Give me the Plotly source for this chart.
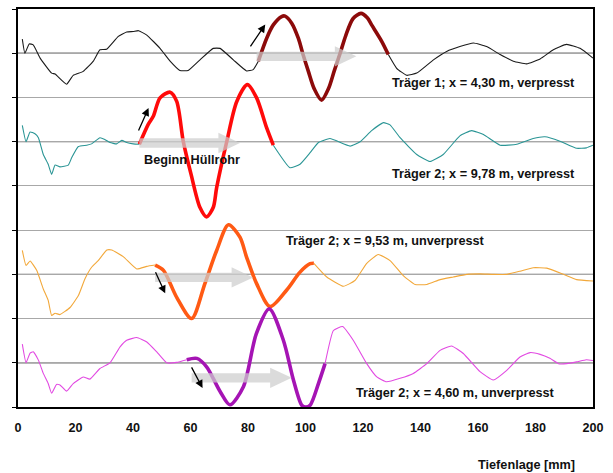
import plotly.graph_objects as go

# ---------------- data ----------------
# Series 1: Träger 1; x = 4,30 m, verpresst (baseline 8)
s1_pre_x = [1.5, 2.4, 3.9, 5.3, 7.7, 11.7, 12.9, 16.9, 19.2, 22.7, 26.2, 28.5, 30.8, 34.9, 37.8, 40.1, 41.9, 44.8, 49.4, 52.9, 56.3, 59.2, 63.3, 67.9, 70.3, 74.9, 79.5, 81.8, 83.6]
s1_pre_y = [8.32, 8.0, 8.21, 8.19, 7.89, 7.55, 7.53, 7.30, 7.5, 7.59, 7.82, 8.08, 8.09, 8.38, 8.48, 8.49, 8.51, 8.41, 8.11, 7.82, 7.61, 7.61, 7.85, 8.11, 8.11, 7.85, 7.6, 7.63, 7.82]
s1_thick_x = [83.6, 86.5, 88.8, 91.7, 92.9, 95.2, 97.5, 99.2, 101.0, 103.0, 105.6, 108.0, 110.0, 112.0, 114.0, 116.5, 119.3, 121.5, 123.0, 126.5, 128.8]
s1_thick_y = [7.82, 8.34, 8.64, 8.83, 8.84, 8.68, 8.34, 7.96, 7.59, 7.2, 6.94, 7.2, 7.6, 7.99, 8.4, 8.78, 8.90, 8.8, 8.64, 8.27, 7.97]
s1_post_x = [128.8, 131.7, 135.2, 138.7, 144.5, 149.1, 153.7, 158.4, 163.0, 167.7, 172.3, 176.9, 181.6, 186.2, 190.8, 195.5, 200.0]
s1_post_y = [7.97, 7.66, 7.5, 7.55, 7.85, 8.04, 8.15, 8.23, 8.15, 7.97, 7.82, 7.76, 7.87, 8.08, 8.2, 8.11, 7.89]

# Series 2: Träger 2; x = 9,78 m, verpresst (baseline 6)
s2_pre_x = [1.5, 2.8, 4.2, 5.9, 7.1, 8.8, 10.5, 11.7, 12.9, 14.6, 17.5, 18.7, 21.0, 23.9, 25.6, 28.5, 30.2, 32.0, 34.3, 36.1, 37.8, 40.1, 42.2]
s2_pre_y = [6.37, 6.0, 6.22, 6.18, 6.09, 5.71, 5.49, 5.26, 5.47, 5.43, 5.47, 5.64, 5.89, 5.92, 5.95, 6.09, 6.05, 5.98, 5.95, 6.03, 5.98, 5.95, 5.94]
s2_thick_x = [42.2, 45.3, 47.1, 49.4, 52.9, 55.2, 57.5, 60.2, 63.3, 65.6, 67.9, 69.1, 72.6, 76.1, 79.8, 83.0, 86.5, 88.8]
s2_thick_y = [5.94, 6.39, 6.58, 6.99, 7.12, 6.91, 6.0, 5.26, 4.51, 4.30, 4.51, 4.96, 6.0, 6.91, 7.29, 6.99, 6.31, 5.92]
s2_post_x = [88.8, 94.6, 98.1, 101.6, 104.5, 108.5, 115.5, 119.0, 123.0, 127.1, 129.4, 132.9, 138.7, 143.3, 147.9, 153.7, 157.8, 161.9, 167.7, 173.5, 179.2, 183.3, 188.5, 194.3, 197.7, 200.0]
s2_post_y = [5.92, 5.41, 5.49, 5.75, 5.98, 6.07, 5.9, 6.0, 6.25, 6.43, 6.38, 6.09, 5.71, 5.55, 5.71, 6.13, 6.25, 6.16, 5.92, 5.94, 6.07, 6.11, 6.01, 5.85, 5.86, 5.92]

# Series 3: Träger 2; x = 9,53 m, unverpresst (baseline 3)
s3_pre_x = [1.5, 2.8, 4.2, 6.5, 8.8, 10.5, 11.7, 12.9, 14.6, 18.1, 21.0, 23.3, 25.6, 27.9, 30.9, 32.6, 36.6, 41.3, 44.8, 47.7]
s3_pre_y = [3.54, 3.2, 3.30, 3.09, 2.67, 2.41, 2.07, 2.12, 2.09, 2.25, 2.52, 2.90, 3.16, 3.31, 3.55, 3.55, 3.40, 3.12, 3.18, 3.21]
s3_thick_x = [47.7, 50.6, 55.2, 60.4, 65.0, 69.1, 73.2, 77.2, 79.5, 83.0, 87.7, 93.4, 98.1, 101.6, 102.9]
s3_thick_y = [3.21, 3.09, 2.48, 2.0, 2.79, 3.54, 4.12, 3.84, 3.39, 2.79, 2.27, 2.64, 3.05, 3.24, 3.25]
s3_post_x = [102.9, 107.4, 113.2, 117.2, 121.3, 125.3, 129.4, 134.0, 138.1, 142.2, 146.8, 151.4, 156.1, 160.7, 165.3, 170.0, 174.6, 179.2, 183.9, 189.7, 194.3, 200.0]
s3_post_y = [3.25, 2.94, 2.73, 2.86, 3.25, 3.45, 3.31, 2.97, 2.77, 2.77, 2.88, 2.94, 3.0, 3.01, 3.0, 3.0, 3.07, 3.15, 3.14, 3.0, 2.88, 2.85]

# Series 4: Träger 2; x = 4,60 m, unverpresst (baseline 1)
s4_pre_x = [1.5, 2.8, 4.2, 5.3, 7.1, 8.8, 10.5, 11.7, 13.4, 14.6, 16.9, 19.2, 22.7, 25.0, 28.5, 32.0, 35.5, 37.8, 41.3, 44.8, 48.2, 51.7, 55.2, 58.7]
s4_pre_y = [1.42, 1.0, 1.22, 1.25, 1.06, 0.76, 0.53, 0.31, 0.51, 0.50, 0.36, 0.53, 0.68, 0.63, 0.87, 1.0, 1.36, 1.51, 1.57, 1.47, 1.25, 1.0, 1.01, 1.07]
s4_thick_x = [58.7, 62.2, 65.6, 70.3, 73.7, 78.4, 82.9, 87.4, 92.3, 95.8, 98.7, 100.1, 101.6, 104.5, 106.8]
s4_thick_y = [1.07, 1.10, 0.91, 0.35, 0.05, 0.46, 1.66, 2.22, 1.51, 0.61, 0.04, 0.0, 0.04, 0.53, 0.98]
s4_post_x = [106.8, 109.7, 112.9, 116.6, 121.3, 124.8, 128.2, 132.9, 137.5, 142.2, 146.8, 150.8, 154.9, 160.7, 165.3, 170.0, 174.6, 178.1, 181.6, 185.0, 188.0, 190.8, 194.3, 197.7, 200.0]
s4_post_y = [0.98, 1.73, 1.82, 1.51, 0.98, 0.68, 0.57, 0.65, 0.76, 0.98, 1.28, 1.38, 1.21, 0.80, 0.61, 0.83, 1.13, 1.23, 1.19, 1.10, 0.98, 0.98, 1.02, 1.07, 1.05]

x_ticks = [0, 20, 40, 60, 80, 100, 120, 140, 160, 180, 200]
y_levels = [0, 1, 2, 3, 4, 5, 6, 7, 8, 9]
baseline_levels = [1, 3, 6, 8]

labels = ["Träger 1; x = 4,30 m, verpresst", "Träger 2; x = 9,78 m, verpresst",
          "Träger 2; x = 9,53 m, unverpresst", "Träger 2; x = 4,60 m, unverpresst"]
label_x = [194.3, 194.3, 163.0, 187.4]
label_y = [7.32, 5.28, 3.75, 0.32]
begin_text = "Beginn Hüllrohr"
x_title = "Tiefenlage [mm]"

# gray direction arrows: (x start, x end, y)
gray_arrows = [(83.0, 117.7, 7.93), (42.2, 77.2, 5.97), (47.7, 81.8, 2.93), (60.4, 95.2, 0.66)]
# small black arrows: (tail x, tail y, head x, head y)
black_arrows = [(80.5, 8.12, 86.0, 8.65), (41.7, 6.22, 45.4, 6.76), (47.6, 3.08, 51.2, 2.57), (60.1, 0.93, 64.2, 0.43)]

thin_colors = ["#1a1a1a", "#2a9595", "#f2a83a", "#e24ae2"]
thick_colors = ["#8c0a0a", "#ff0a0a", "#ff5a14", "#a514b4"]

series = [
    (s1_pre_x, s1_pre_y, s1_thick_x, s1_thick_y, s1_post_x, s1_post_y),
    (s2_pre_x, s2_pre_y, s2_thick_x, s2_thick_y, s2_post_x, s2_post_y),
    (s3_pre_x, s3_pre_y, s3_thick_x, s3_thick_y, s3_post_x, s3_post_y),
    (s4_pre_x, s4_pre_y, s4_thick_x, s4_thick_y, s4_post_x, s4_post_y),
]

FONT = "Liberation Sans, Arial, sans-serif"
fig = go.Figure()

for i, (px_, py_, tx, ty, qx, qy) in enumerate(series):
    fig.add_trace(go.Scatter(x=px_ + [None] + qx, y=py_ + [None] + qy, mode="lines",
                             line=dict(color=thin_colors[i], width=1.1, shape="spline", smoothing=0.4),
                             showlegend=False, hoverinfo="skip"))
for i, (px_, py_, tx, ty, qx, qy) in enumerate(series):
    fig.add_trace(go.Scatter(x=tx, y=ty, mode="lines",
                             line=dict(color=thick_colors[i], width=3.6, shape="spline", smoothing=0.8),
                             showlegend=False, hoverinfo="skip"))

shapes = []
for lv in baseline_levels:
    shapes.append(dict(type="line", xref="paper", x0=0, x1=1, yref="y", y0=lv, y1=lv,
                       line=dict(color="#6e6e6e", width=1.2), layer="below"))

# gray arrows as polygons (data units)
shaft_h = 0.105
head_h = 0.23
head_len = 7.5
for xs, xe, yc in gray_arrows:
    xb = xe - head_len
    path = (f"M {xs},{yc - shaft_h} L {xb},{yc - shaft_h} L {xb},{yc - head_h} L {xe},{yc} "
            f"L {xb},{yc + head_h} L {xb},{yc + shaft_h} L {xs},{yc + shaft_h} Z")
    shapes.append(dict(type="path", path=path, xref="x", yref="y",
                       fillcolor="rgba(205,205,205,0.72)", line=dict(width=0), layer="above"))

annotations = []
for hx_t, hy_t, hx, hy in black_arrows:
    annotations.append(dict(x=hx, y=hy, ax=hx_t, ay=hy_t, xref="x", yref="y", axref="x", ayref="y",
                            text="", showarrow=True, arrowhead=2, arrowsize=1.2, arrowwidth=1.3,
                            arrowcolor="black", standoff=0, startstandoff=0))
for t, lx, ly in zip(labels, label_x, label_y):
    annotations.append(dict(x=lx, y=ly, xref="x", yref="y", text=t, showarrow=False,
                            xanchor="right", yanchor="middle",
                            font=dict(family=FONT, size=12.7, color="#111", weight="bold")))
annotations.append(dict(x=43.0, y=5.58, xref="x", yref="y", text=begin_text, showarrow=False,
                        xanchor="left", yanchor="middle",
                        font=dict(family=FONT, size=12.7, color="#111", weight="bold")))
annotations.append(dict(x=0.9717, y=-0.145, xref="paper", yref="paper", text=x_title, showarrow=False,
                        xanchor="right", yanchor="middle",
                        font=dict(family=FONT, size=12.7, color="#111", weight="bold")))

fig.update_layout(
    width=613, height=473,
    margin=dict(l=18, r=20, t=7, b=66),
    paper_bgcolor="white", plot_bgcolor="white",
    shapes=shapes, annotations=annotations,
    xaxis=dict(range=[0, 200], tickvals=x_ticks, showgrid=False, zeroline=False,
               showline=True, linecolor="black", linewidth=2, mirror=True,
               ticks="outside", ticklen=8, tickcolor="rgba(0,0,0,0)",
               tickfont=dict(family=FONT, size=12.6, color="#111", weight="bold")),
    yaxis=dict(range=[0, 9], tickvals=y_levels, showticklabels=False, showgrid=True,
               gridcolor="#a8a8a8", gridwidth=1, zeroline=False,
               showline=True, linecolor="black", linewidth=2, mirror=True,
               ticks="outside", ticklen=4, tickcolor="black", tickwidth=1),
)

fig.write_html("out.html", config={"displayModeBar": False},
               post_script="document.body.style.margin='0px';document.body.style.padding='0px';")
